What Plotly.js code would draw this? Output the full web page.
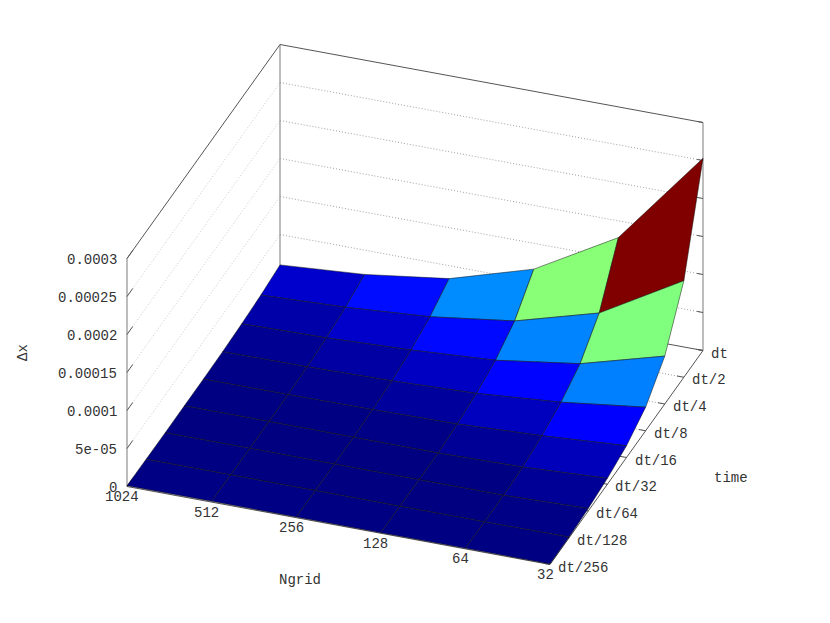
<!DOCTYPE html>
<html>
<head>
<script src="https://cdn.plot.ly/plotly-3.0.1.min.js"></script>
</head>
<body style="margin:0;background:#fff">
<div id="graph" style="width:830px;height:623px"></div>
<script>
var ngrid = ["1024", "512", "256", "128", "64", "32"];
var times = ["dt/256", "dt/128", "dt/64", "dt/32", "dt/16", "dt/8", "dt/4", "dt/2", "dt"];
var zticks = [0, 0.00005, 0.0001, 0.00015, 0.0002, 0.00025, 0.0003];
var zlabels = ["0", "5e-05", "0.0001", "0.00015", "0.0002", "0.00025", "0.0003"];

// rows are time (dt/256 first), columns are Ngrid (1024 first)
var dt256 = [1.1e-6, 1.1e-6, 0.9e-6, 0.8e-6, 0.8e-6, 0.7e-6];
var dt128 = [0.7e-6, 0.7e-6, 0.6e-6, 0.5e-6, 0.4e-6, 0.9e-6];
var dt64 = [0.4e-6, 0.4e-6, 0.3e-6, 0.2e-6, 0.2e-6, 3.4e-6];
var dt32 = [0.6e-6, 0.5e-6, 0.3e-6, 0.1e-6, 2.1e-6, 7.8e-6];
var dt16 = [0.7e-6, 0.7e-6, 1.5e-6, 3.1e-6, 8.1e-6, 15.5e-6];
var dt8 = [1.4e-6, 2.1e-6, 4.1e-6, 8.1e-6, 17e-6, 31e-6];
var dt4 = [3.0e-6, 5.0e-6, 9.5e-6, 16.5e-6, 32.5e-6, 63e-6];
var dt2 = [5.5e-6, 10e-6, 18e-6, 33e-6, 64e-6, 127e-6];
var dt1 = [10e-6, 18e-6, 33e-6, 66e-6, 128e-6, 253e-6];
var dx = [dt256, dt128, dt64, dt32, dt16, dt8, dt4, dt2, dt1];

var zmax = 0.0003;
var ncols = ngrid.length, nrows = times.length;

// the gnuplot view: an orthographic projection of the box onto the page
function project(c, r, z) {
    return [
        127 + 423 * c / (ncols - 1) + 153 * r / (nrows - 1),
        486.5 + 78 * c / (ncols - 1) - 214 * r / (nrows - 1) - 228 * z / zmax
    ];
}

function jet(v) {
    var cl = function(a) { return Math.round(255 * Math.max(0, Math.min(1, a))); };
    return "rgb(" + cl(1.5 - Math.abs(4 * v - 3)) + "," + cl(1.5 - Math.abs(4 * v - 2)) + "," + cl(1.5 - Math.abs(4 * v - 1)) + ")";
}

var data = [];
function line(points, color, width, dash) {
    var pts = points.map(function(p) { return project(p[0], p[1], p[2]); });
    data.push({
        type: "scatter", mode: "lines", hoverinfo: "skip",
        x: pts.map(function(p) { return p[0]; }),
        y: pts.map(function(p) { return p[1]; }),
        line: {color: color, width: width, dash: dash || "solid"}
    });
}

var lastc = ncols - 1, lastr = nrows - 1;
var dots = "1px,2px";

// walls
for (var t = 1; t < zticks.length - 1; t++) {
    line([[0, 0, zticks[t]], [0, lastr, zticks[t]]], "#bbb", 0.8, dots);
    line([[0, lastr, zticks[t]], [lastc, lastr, zticks[t]]], "#888", 0.8, dots);
}
// floor
for (var r = 1; r < lastr; r++) {
    line([[0, r, 0], [lastc, r, 0]], "#888", 0.8, dots);
}
// box edges
line([[0, 0, 0], [0, 0, zmax]], "#999", 1.3);
line([[0, lastr, 0], [0, lastr, zmax]], "#999", 1.3);
line([[lastc, lastr, 0], [lastc, lastr, zmax]], "#999", 1.3);
line([[0, 0, zmax], [0, lastr, zmax], [lastc, lastr, zmax]], "#555", 1);
line([[0, 0, 0], [lastc, 0, 0], [lastc, lastr, 0], [0, lastr, 0]], "#555", 1);

// tick marks, a fixed fraction of the axis
for (var t = 0; t < zticks.length; t++) {
    line([[0, 0, zticks[t]], [0, 0.3, zticks[t]]], "#555", 1);
    line([[lastc, lastr, zticks[t]], [lastc - 0.07, lastr, zticks[t]]], "#555", 1);
}
for (var r = 0; r < nrows; r++) {
    line([[lastc, r, 0], [lastc - 0.08, r, 0]], "#555", 1);
}

// corner means, autoscaled to the colour range
var means = [];
for (var r = 0; r < lastr; r++) {
    means.push([]);
    for (var c = 0; c < lastc; c++) {
        means[r].push((dx[r][c] + dx[r][c + 1] + dx[r + 1][c] + dx[r + 1][c + 1]) / 4);
    }
}
var cbmax = Math.max.apply(null, means.map(function(m) { return Math.max.apply(null, m); }));
var cbmin = Math.min.apply(null, means.map(function(m) { return Math.min.apply(null, m); }));

// surface, back to front
for (var r = lastr - 1; r >= 0; r--) {
    for (var c = 0; c < lastc; c++) {
        var corners = [[c, r], [c + 1, r], [c + 1, r + 1], [c, r + 1], [c, r]];
        var pts = corners.map(function(q) { return project(q[0], q[1], dx[q[1]][q[0]]); });
        data.push({
            type: "scatter", mode: "lines", hoverinfo: "skip", fill: "toself",
            fillcolor: jet((means[r][c] - cbmin) / (cbmax - cbmin)),
            x: pts.map(function(p) { return p[0]; }),
            y: pts.map(function(p) { return p[1]; }),
            line: {color: "#111", width: 0.5}
        });
    }
}

var mono = {family: "Liberation Mono, monospace", size: 14, color: "#333"};
var notes = [];
function label(text, x, y, anchor, angle) {
    notes.push({
        text: text, x: x, y: y, xref: "x", yref: "y", showarrow: false,
        xanchor: anchor, yanchor: "middle", font: mono, textangle: angle || 0
    });
}
zticks.forEach(function(z, q) {
    var p = project(0, 0, z);
    label(zlabels[q], p[0] - 8, p[1] + 1, "right");
});
ngrid.forEach(function(name, q) {
    var p = project(q, 0, 0);
    label(name, p[0] - 5, p[1] + 10.5, "center");
});
times.forEach(function(name, q) {
    var p = project(lastc, q, 0);
    label(name, p[0] + 6, p[1] + 3, "left");
});
label("Ngrid", 300, 580, "center");
label("time", 731, 478, "center");
label("Δx", 23, 353, "center", -90);

var layout = {
    width: 830, height: 623,
    margin: {l: 0, r: 0, t: 0, b: 0},
    paper_bgcolor: "#fff", plot_bgcolor: "#fff",
    showlegend: false,
    xaxis: {range: [0, 830], visible: false},
    yaxis: {range: [623, 0], visible: false},
    annotations: notes
};
Plotly.newPlot("graph", data, layout, {staticPlot: true});
</script>
</body>
</html>
